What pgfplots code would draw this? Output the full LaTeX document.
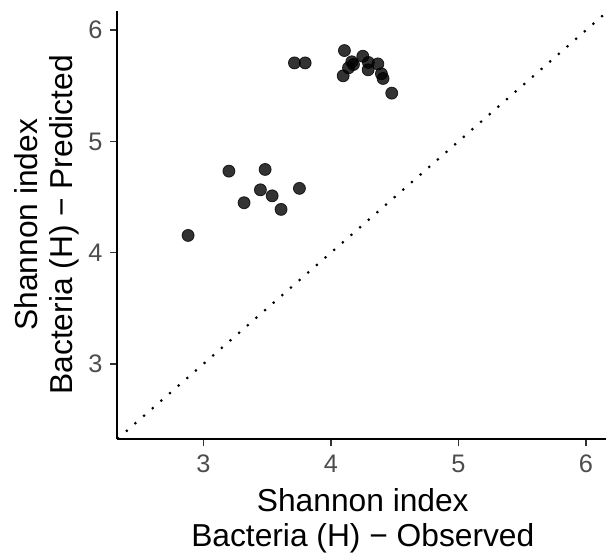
\documentclass[border=0pt]{standalone}
\usepackage{fontspec}
\setmainfont{Liberation Sans}
\usepackage{pgfplots}
\pgfplotsset{compat=1.18}
\newcommand{\titlefont}{\fontsize{23.8}{26}\selectfont}
\newcommand{\tickfont}{\fontsize{19}{21}\selectfont}
\begin{document}
\begin{tikzpicture}
\begin{axis}[
  at={(0pt,0pt)}, anchor=south west,
  scale only axis, width=368.2pt, height=321.2pt,
  xmin=2.325, xmax=6.175, ymin=2.325, ymax=6.175,
  axis lines*=left,
  axis line style={-, line width=1.5pt, black},
  xtick={3,4,5,6}, ytick={3,4,5,6},
  tick align=outside,
  major tick length=5.5pt,
  tick style={black!80, line width=1.2pt},
  /pgf/number format/assume math mode=true,
  ticklabel style={font=\tickfont, text=black!70},
  xticklabel style={anchor=base, yshift=-19.8pt},
  yticklabel style={anchor=east, inner sep=0pt, xshift=-5.5pt},
]
\addplot[black, line width=1.6pt, dash pattern=on 1.6pt off 7pt, forget plot] coordinates {(2.325,2.325) (6.175,6.175)};
\addplot[only marks, mark=*, mark size=4.5pt,
  mark options={fill=black, draw=black, line width=0.6pt, fill opacity=0.8, draw opacity=0.8}]
  table {
x y
2.88 4.155
3.20 4.733
3.484 4.748
3.319 4.449
3.447 4.565
3.539 4.511
3.609 4.389
3.753 4.578
3.714 5.706
3.798 5.706
4.106 5.817
4.096 5.590
4.138 5.662
4.164 5.716
4.177 5.692
4.250 5.766
4.294 5.710
4.292 5.644
4.368 5.697
4.396 5.608
4.409 5.566
4.477 5.434
};
\end{axis}
\node[anchor=base, font=\titlefont] at (184.1pt,-54.5pt) {Shannon index};
\node[anchor=base, font=\titlefont] at (184.1pt,-80.3pt) {Bacteria (H) − Observed};
\node[anchor=base, rotate=90, font=\titlefont] at (-60pt,160.6pt) {Shannon index};
\node[anchor=base, rotate=90, font=\titlefont] at (-33.5pt,160.6pt) {Bacteria (H) − Predicted};
\pgfresetboundingbox
\path (-88pt,-88.5pt) rectangle (366.5pt,329.25pt);
\end{tikzpicture}
\end{document}
